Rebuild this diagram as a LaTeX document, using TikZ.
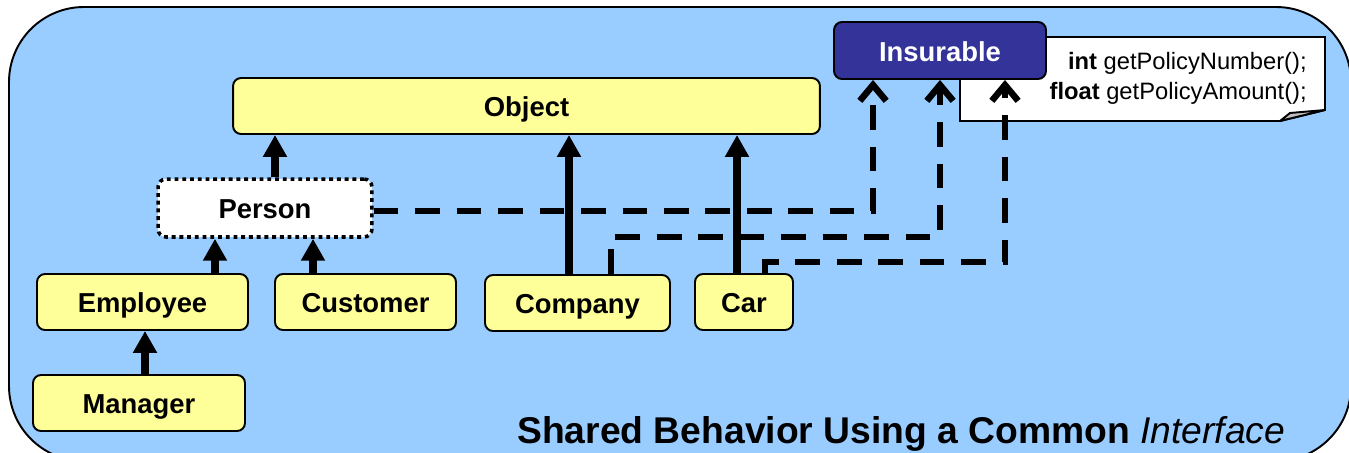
\documentclass[tikz,border=0pt]{standalone}
\usepackage{fontspec}
\setmainfont{Liberation Sans}
\usetikzlibrary{arrows.meta, calc}

\definecolor{panelblue}{HTML}{99CCFF}
\definecolor{classyellow}{HTML}{FFFF99}
\definecolor{ifaceblue}{HTML}{333399}
\definecolor{foldgray}{HTML}{C0C0C0}

\begin{document}
\begin{tikzpicture}[
        x=0.02cm, y=-0.02cm,
        font=\fontsize{15.6}{18}\selectfont\bfseries,
        boxtext/.style={inner sep=0pt, text height=12.5pt, text depth=0.3pt},
        classbox/.style={boxtext, draw, line width=1.1pt, rounded corners=0.16cm, fill=classyellow, minimum height=1.12cm},
        abstractbox/.style={boxtext, draw, line width=2pt, dash pattern=on 2.2pt off 2.2pt, rounded corners=0.16cm, fill=white, minimum height=1.16cm},
        ifacebox/.style={boxtext, draw, line width=1.1pt, rounded corners=0.16cm, fill=ifaceblue, text=white, minimum width=4.24cm, minimum height=1.14cm},
        notetext/.style={font=\fontsize{13.5}{17.4}\selectfont\mdseries, align=right, inner sep=0pt},
        inharrow/.style={line width=4.4pt, -{Triangle[length=12.5pt, width=13pt]}},
        implarrow/.style={line width=3.7pt, dash pattern=on 14pt off 9.6pt, -{Straight Barb[length=9pt, width=15pt]}},
        titletext/.style={font=\fontsize{21.2}{25}\selectfont\bfseries, inner sep=0pt}
    ]
    \useasboundingbox (0,0) rectangle (1349,453);
    \clip (0,0) rectangle (1349,453);

    % --- Panel ---
    \draw[line width=1.1pt, fill=panelblue, rounded corners=1.5cm] (9,7) rectangle (1351,461);

    % --- Note with folded corner ---
    \draw[line width=1.1pt, fill=white] (960,37) -- (1325,37) -- (1325,110) -- (1280,121) -- (960,121) -- cycle;
    \draw[line width=1.1pt, fill=foldgray, line join=round] (1280,121) -- (1290,113) -- (1325,110) -- cycle;
    \node[notetext, anchor=east] (note) at (1307,78.5) {\textbf{int} getPolicyNumber();\\\textbf{float} getPolicyAmount();};

    % --- Classes ---
    \node[classbox, minimum width=11.74cm] (object) at (526.5,106) {Object};
    \node[ifacebox] (insurable) at (940,50.5) {Insurable};
    \node[abstractbox, minimum width=4.28cm] (person) at (265,208) {Person};
    \node[classbox, minimum width=4.22cm] (employee) at (142.5,302) {Employee};
    \node[classbox, minimum width=4.24cm] (manager) at (139,403) {Manager};
    \node[classbox, minimum width=3.62cm] (customer) at (365.5,302) {Customer};
    \node[classbox, minimum width=3.70cm] (company) at (577.5,303) {Company};
    \node[classbox, minimum width=1.96cm] (car) at (744,302) {Car};

    % --- Implements (dashed) ---
    \draw[implarrow] ([yshift=-0.06cm]person.east) -| ([xshift=-1.34cm]insurable.south);
    \draw[implarrow] ([xshift=0.67cm]company.north) -- ++(0,-37) -| (insurable.south);
    \draw[implarrow] ([xshift=0.42cm]car.north) -- ++(0,-11) -| ([xshift=1.3cm]insurable.south);

    % --- Inheritance (solid) ---
    \draw[inharrow] ([xshift=0.12cm]manager.north) -- ([xshift=0.12cm]manager.north |- employee.south);
    \draw[inharrow] ([xshift=1.45cm]employee.north) -- ([xshift=1.45cm]employee.north |- person.south);
    \draw[inharrow] ([xshift=-1.05cm]customer.north) -- ([xshift=-1.05cm]customer.north |- person.south);
    \draw[inharrow] ([xshift=0.2cm]person.north) -- ([xshift=0.2cm]person.north |- object.south);
    \draw[inharrow] ([xshift=-0.17cm]company.north) -- ([xshift=-0.17cm]company.north |- object.south);
    \draw[inharrow] ([xshift=-0.14cm]car.north) -- ([xshift=-0.14cm]car.north |- object.south);

    % --- Caption ---
    \node[titletext, anchor=base west] (title) at (517,443) {Shared Behavior Using a Common \textit{\mdseries Interface}};

\end{tikzpicture}
\end{document}
